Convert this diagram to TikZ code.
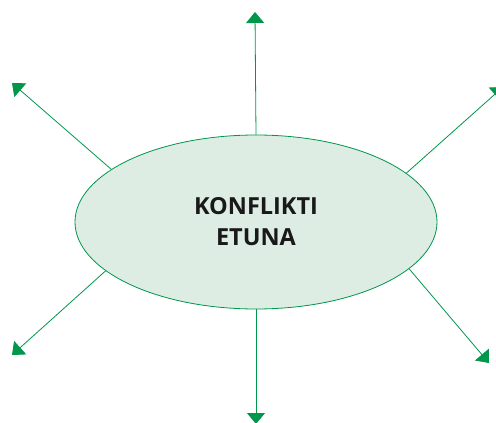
\documentclass[tikz,border=0pt]{standalone}
\usepackage{fontspec}
\setmainfont{Open Sans}
\usetikzlibrary{shapes.geometric,arrows.meta}
\definecolor{lgreen}{RGB}{0,150,75}
\definecolor{lfill}{RGB}{221,237,227}
\tikzset{
  bubble/.style={ellipse, draw=lgreen, fill=lfill, line width=0.8pt,
    minimum width=362pt, minimum height=174pt, inner sep=0pt,
    font=\fontsize{23.5}{31}\selectfont\bfseries, text=black!90, align=center},
  outarrow/.style={draw=lgreen, line width=0.8pt,
    -{Triangle[length=11pt,width=18pt]}, lgreen}
}
\begin{document}
\begin{tikzpicture}[x=1pt,y=-1pt]
\useasboundingbox (0,0) rectangle (496,423);
\clip (0,0) rectangle (496,423);
\node[bubble] (e) at (256,222) {KONFLIKTI\\ETUNA};
\coordinate (t1) at (255,12);
\coordinate (t2) at (12,83);
\coordinate (t3) at (503,87);
\coordinate (t4) at (12,355);
\coordinate (t5) at (489,363);
\coordinate (t6) at (256,424);
\draw[outarrow] (e.north) -- (t1);
\draw[outarrow] (e.160) -- (t2);
\draw[outarrow] (e.18.5) -- (t3);
\draw[outarrow] (e.198) -- (t4);
\draw[outarrow] (e.343) -- (t5);
\draw[outarrow] (e.south) -- (t6);
\end{tikzpicture}
\end{document}
